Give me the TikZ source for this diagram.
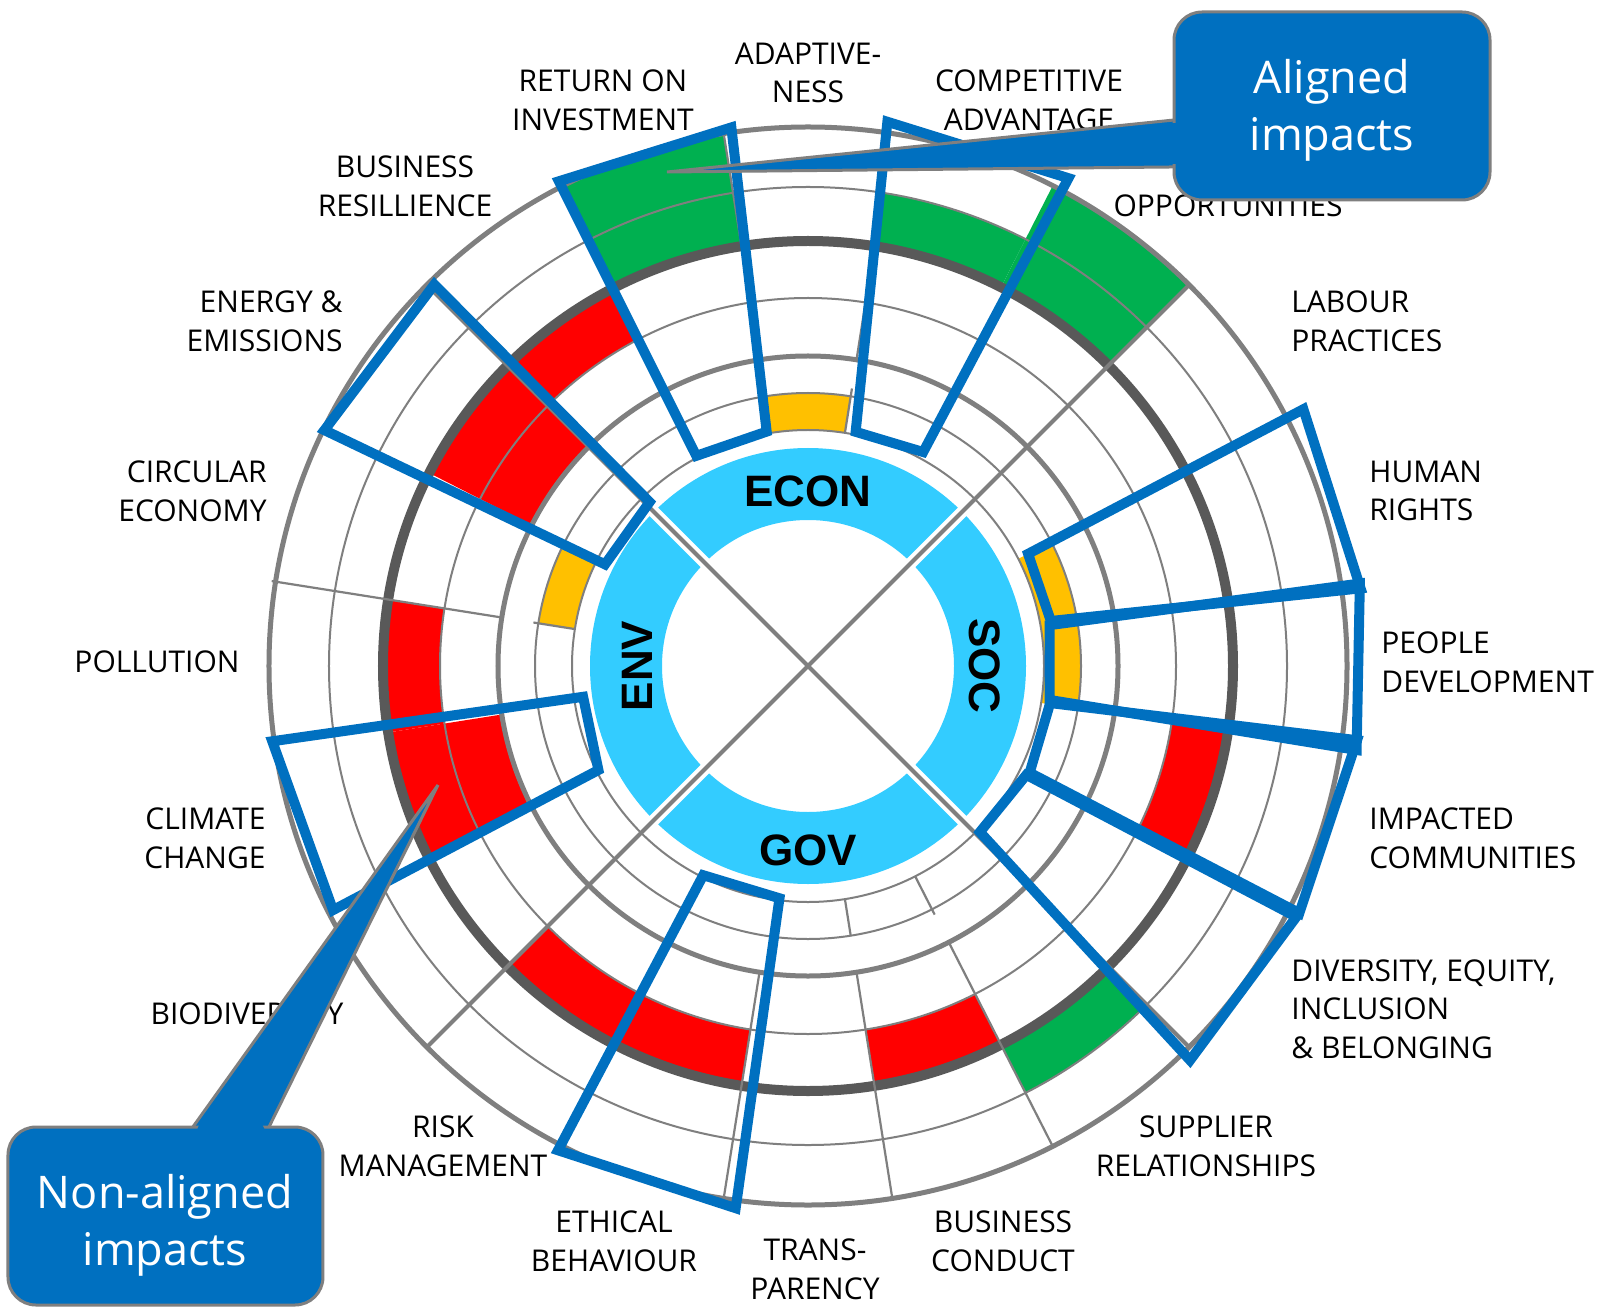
\documentclass[tikz,border=0pt]{standalone}
\usepackage{fontspec}
\setmainfont{Open Sans}
\newfontfamily\pillarfont{Liberation Sans}
\usetikzlibrary{positioning}
\definecolor{impactblue}{HTML}{0070C0}
\definecolor{ringblue}{HTML}{33CCFF}
\definecolor{gridgray}{HTML}{7F7F7F}
\definecolor{darkgrid}{HTML}{595959}
\definecolor{posgreen}{HTML}{00B050}
\definecolor{negred}{HTML}{FF0000}
\definecolor{midyellow}{HTML}{FFC000}
\newcommand{\impactseg}[5]{\fill[#1] (#2:#4) arc[start angle=#2,end angle=#3,radius=#4] -- (#3:#5) arc[start angle=#3,end angle=#2,radius=#5] -- cycle;}

\begin{document}
\begin{tikzpicture}[x=0.5pt,y=0.5pt]
 \tikzset{topic/.style={font=\fontsize{15}{19.3}\selectfont,align=center,inner sep=0pt},
  pillar/.style={font=\pillarfont\bfseries\fontsize{22}{26}\selectfont,inner sep=0pt},
  impact/.style={draw=impactblue,line width=5pt},
  callout/.style={fill=impactblue,draw=gridgray,line width=1.5pt},
  calloutlabel/.style={font=\fontsize{22.5}{28.5}\selectfont,text=white,align=center,inner sep=0pt},
  thingrid/.style={draw=gridgray,line width=1pt},
  thickgrid/.style={draw=gridgray,line width=2.5pt},
  spoke/.style={draw=gridgray,line width=1.1pt}}
 \fill[white] (-808,-645) rectangle (790,666);

 % coloured segments
 \impactseg{posgreen}{45}{63}{425}{539}
 \impactseg{posgreen}{63}{81}{425}{479}
 \impactseg{midyellow}{81}{99}{236}{273}
 \impactseg{posgreen}{99}{117}{425}{539}
 \impactseg{negred}{117}{135}{368}{425}
 \impactseg{negred}{135}{153}{310}{425}
 \impactseg{midyellow}{153}{171}{236}{273}
 \impactseg{negred}{171}{189}{368}{425}
 \impactseg{negred}{189}{207}{310}{425}
 \impactseg{negred}{225}{261}{368}{425}
 \impactseg{negred}{279}{297}{368}{425}
 \impactseg{posgreen}{297}{315}{425}{479}
 \impactseg{negred}{333}{351}{368}{425}
 \impactseg{midyellow}{-9}{27}{236}{273}

 % rings and spokes
 \foreach \r in {236,273,368,479} \draw[thingrid] (0,0) circle[radius=\r];
 \foreach \r in {310,539} \draw[thickgrid] (0,0) circle[radius=\r];
 \draw[darkgrid,line width=5pt] (0,0) circle[radius=425];
 \foreach \a/\ri/\ro in {81/236/281,81/310/368,99/425/539,171/236/278,171/310/543,
   261/310/539,279/236/273,279/310/539,297/236/279,297/310/539}
  \draw[spoke] (\a:\ri) -- (\a:\ro);

 % pillar ring
 \fill[ringblue,even odd rule] (0,0) circle[radius=218] (0,0) circle[radius=146];
 \draw[white,line width=6pt] (45:226) -- (225:226);
 \draw[white,line width=6pt] (135:226) -- (315:226);
 \draw[gridgray,line width=2pt] (45:539) -- (225:539);
 \draw[gridgray,line width=2pt] (135:539) -- (315:539);
 \node[pillar] (econ) at (90:175) {ECON};
 \node[pillar,rotate=90] (env) at (180:171) {ENV};
 \node[pillar,rotate=-90] (soc) at (0:177) {SOC};
 \node[pillar] (gov) at (270:184) {GOV};

 % impact boxes
 \draw[impact] (117.2:545) -- (98.1:544) -- (100:238) -- (118:238) -- cycle;
 \draw[impact] (81.7:550) -- (61.9:553) -- (61.7:243) -- (78.5:239) -- cycle;
 \draw[impact] (134.4:534) -- (154:538) -- (153.4:227) -- (134:228) -- cycle;
 \draw[impact] (27.4:558) -- (8:558) -- (10.5:247) -- (27:247) -- cycle;
 \draw[impact] (9.6:245) -- (8.5:558) -- (-8.7:555) -- (-8:244) -- cycle;
 \draw[impact] (-8.7:245) -- (-7.7:554) -- (-26.7:550) -- (-25.7:246) -- cycle;
 \draw[impact] (-26.5:244) -- (-27.2:549) -- (-45.9:549) -- (-44:239) -- cycle;
 \draw[impact] (243.4:234) -- (263:234) -- (262.4:547) -- (242.7:545) -- cycle;
 \draw[impact] (188:541) -- (187.8:227) -- (206.4:234) -- (207.2:534) -- cycle;

 % topic labels
 \node[topic] (roi) at (-205,566) {RETURN ON\\INVESTMENT};
 \node[topic] (adapt) at (0,593) {ADAPTIVE-\\NESS};
 \node[topic] (compadv) at (221,566) {COMPETITIVE\\ADVANTAGE};
 \node[topic] (opport) at (420,460) {OPPORTUNITIES};
 \node[topic] (resil) at (-403,480) {BUSINESS\\RESILLIENCE};
 \node[topic,anchor=east,align=right] (energy) at (-465,345) {ENERGY \&\\EMISSIONS};
 \node[topic,anchor=east,align=right] (circular) at (-541,175) {CIRCULAR\\ECONOMY};
 \node[topic] (pollution) at (-651,4) {POLLUTION};
 \node[topic,anchor=east,align=right] (climate) at (-542,-172) {CLIMATE\\CHANGE};
 \node[topic] (biodiv) at (-561,-348) {BIODIVERSITY};
 \node[topic] (risk) at (-365,-480) {RISK\\MANAGEMENT};
 \node[topic] (ethical) at (-194,-575) {ETHICAL\\BEHAVIOUR};
 \node[topic] (transp) at (7,-603) {TRANS-\\PARENCY};
 \node[topic] (conduct) at (195,-575) {BUSINESS\\CONDUCT};
 \node[topic] (supplier) at (398,-480) {SUPPLIER\\RELATIONSHIPS};
 \node[topic,anchor=west,align=left] (dei) at (483,-343) {DIVERSITY, EQUITY,\\INCLUSION\\\& BELONGING};
 \node[topic,anchor=west,align=left] (impacted) at (561,-172) {IMPACTED\\COMMUNITIES};
 \node[topic,anchor=west,align=left] (people) at (573,4) {PEOPLE\\DEVELOPMENT};
 \node[topic,anchor=west,align=left] (rights) at (561,175) {HUMAN\\RIGHTS};
 \node[topic,anchor=west,align=left] (labour) at (483,345) {LABOUR\\PRACTICES};

 % callouts
 \draw[callout] (372,546.6) -- (-141,494) -- (372,499.1) -- cycle;
 \draw[callout,rounded corners=14pt] (366,466) rectangle (682,654);
 \fill[impactblue] (363,502) rectangle (371,543);
 \node[calloutlabel] (aligned) at (524,556) {Aligned\\impacts};

 \draw[callout] (-618,-465) -- (-370,-119) -- (-541,-465) -- cycle;
 \draw[callout,rounded corners=14pt] (-800,-639) rectangle (-485,-461);
 \fill[impactblue] (-611,-464) -- (-608.5,-458) -- (-546,-458) -- (-543,-464) -- cycle;
 \node[calloutlabel] (nonaligned) at (-643,-559) {Non-aligned\\impacts};
\end{tikzpicture}
\end{document}
